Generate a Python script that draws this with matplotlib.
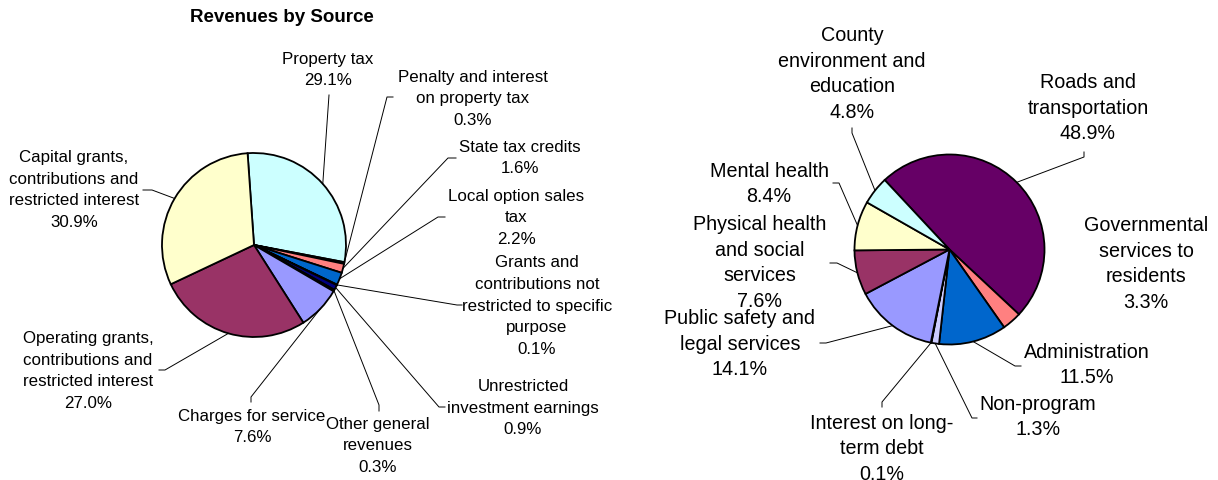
import numpy as np
import matplotlib.pyplot as plt

plt.rcParams['font.family'] = ['Liberation Sans', 'DejaVu Sans']

W, H = 1218, 480

# revenues (left pie), clockwise from the top
rev_labels = ['Property tax',
              'Penalty and interest\non property tax',
              'State tax credits',
              'Local option sales\ntax',
              'Grants and\ncontributions not\nrestricted to specific\npurpose',
              'Unrestricted\ninvestment earnings',
              'Other general\nrevenues',
              'Charges for service',
              'Operating grants,\ncontributions and\nrestricted interest',
              'Capital grants,\ncontributions and\nrestricted interest']
rev_values = [29.1, 0.3, 1.6, 2.2, 0.1, 0.9, 0.3, 7.6, 27.0, 30.9]

# expenses (right pie), clockwise
exp_labels = ['Roads and\ntransportation',
              'Governmental\nservices to\nresidents',
              'Administration',
              'Non-program',
              'Interest on long-\nterm debt',
              'Public safety and\nlegal services',
              'Physical health\nand social\nservices',
              'Mental health',
              'County\nenvironment and\neducation']
exp_values = [48.9, 3.3, 11.5, 1.3, 0.1, 14.1, 7.6, 8.4, 4.8]

rev_colors = ['#CCFFFF', '#660066', '#FF8080', '#0066CC', '#CCCCFF',
              '#000080', '#FF00FF', '#9999FF', '#993366', '#FFFFCC']
exp_colors = ['#660066', '#FF8080', '#0066CC', '#CCCCFF', '#000080',
              '#9999FF', '#993366', '#FFFFCC', '#CCFFFF']

# label layout in pixels from top-left: text centre, knee, stub end
rev_layout = [((328, 70), (329, 95), (329, 95)),
              ((473, 99), (387, 97), (393, 97)),
              ((520, 158), (448, 158), (456, 158)),
              ((516, 218), (438, 217), (445, 217)),
              ((537, 306), (457, 305), (462, 305)),
              ((523, 408), (439, 407), (445, 407)),
              ((378, 446), (379, 405), (379, 411)),
              ((252, 427), (251, 397), (251, 402)),
              ((88, 371), (165, 370), (159, 370)),
              ((74, 190), (152, 190), (143, 190))]
exp_layout = [((1088, 108), (1084, 157), (1084, 152)),
              ((1146, 264), None, None),
              ((1087, 365), (1015, 366), (1021, 366)),
              ((1038, 417), (972, 418), (977, 418)),
              ((882, 449), (882, 402), (882, 407)),
              ((740, 344), (826, 343), (820, 343)),
              ((760, 263), (837, 263), (830, 263)),
              ((769, 184), (839, 183), (833, 183)),
              ((852, 74), (852, 133), (852, 128))]


def py(y):
    return H - y


fig = plt.figure(figsize=(W / 100, H / 100), dpi=100)
ax = fig.add_axes([0, 0, 1, 1])


def draw_pie(values, labels, colors, layout, center, radius, start, fs, ls):
    cx, cy = center[0], py(center[1])
    wedges, _ = ax.pie(values, colors=colors, startangle=start,
                       counterclock=False, center=(cx, cy), radius=radius,
                       wedgeprops=dict(edgecolor='black', linewidth=1.3))
    for w, lab, v, (t, k, s) in zip(wedges, labels, values, layout):
        ax.text(t[0], py(t[1]), '%s\n%.1f%%' % (lab, v), ha='center',
                va='center', fontsize=fs, linespacing=ls)
        if k is None:
            continue
        mid = np.deg2rad((w.theta1 + w.theta2) / 2)
        ex = cx + radius * np.cos(mid)
        ey = cy + radius * np.sin(mid)
        ax.plot([ex, k[0], s[0]], [ey, py(k[1]), py(s[1])],
                color='black', lw=0.7)


draw_pie(rev_values, rev_labels, rev_colors, rev_layout,
         (254, 245), 92, 94, 12.2, 1.58)
draw_pie(exp_values, exp_labels, exp_colors, exp_layout,
         (949.5, 249.5), 95, 133, 14.2, 1.44)

ax.text(282, py(17), 'Revenues by Source', ha='center', va='center',
        fontsize=13.5, fontweight='bold')

ax.set_xlim(0, W)
ax.set_ylim(0, H)
ax.axis('off')

fig.savefig('out.png', dpi=100)
